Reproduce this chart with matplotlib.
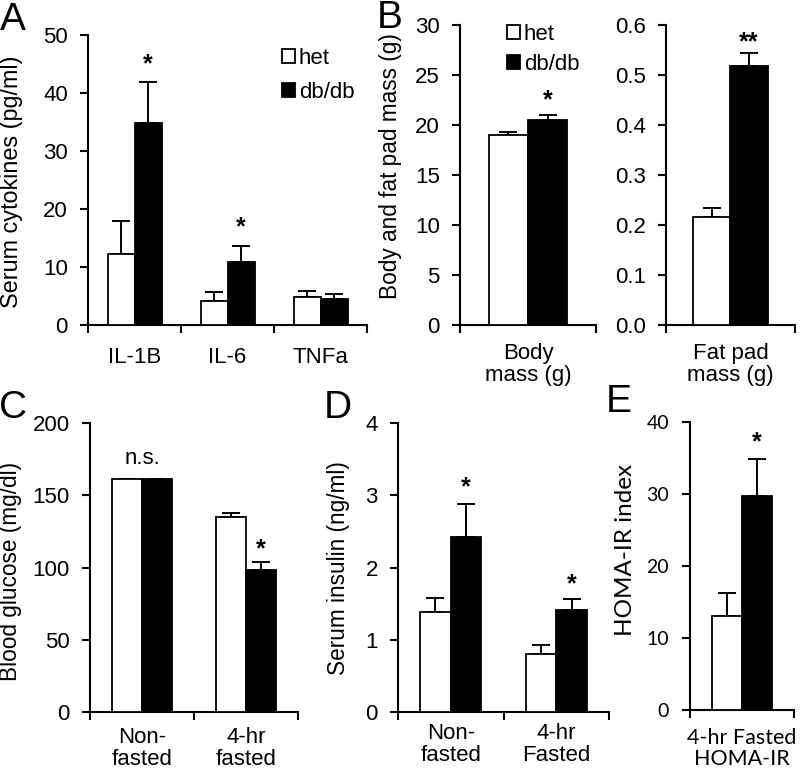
import numpy as np
import matplotlib.pyplot as plt

plt.rcParams['font.family'] = ['Liberation Sans', 'DejaVu Sans']
plt.rcParams['font.size'] = 16

# A - serum cytokines
cyto_labels = ["IL-1B", "IL-6", "TNFa"]
cyto_het = [12.3, 4.2, 4.9]
cyto_het_err = [5.7, 1.5, 0.9]
cyto_db = [34.9, 10.9, 4.5]
cyto_db_err = [7.0, 2.8, 0.9]
cyto_marks = ["*", "*", ""]

# B - body and fat pad mass
body_labels = ["Body\nmass (g)"]
body_het = [19.0]
body_het_err = [0.35]
body_db = [20.5]
body_db_err = [0.5]
body_marks = ["*"]

fat_labels = ["Fat pad\nmass (g)"]
fat_het = [0.217]
fat_het_err = [0.018]
fat_db = [0.518]
fat_db_err = [0.027]
fat_marks = ["**"]

# C - blood glucose
glu_labels = ["Non-\nfasted", "4-hr\nfasted"]
glu_het = [161, 135]
glu_het_err = [0.5, 3]
glu_db = [161, 98]
glu_db_err = [0.5, 6]
glu_marks = ["n.s.", "*"]

# D - serum insulin
ins_labels = ["Non-\nfasted", "4-hr\nFasted"]
ins_het = [1.38, 0.80]
ins_het_err = [0.20, 0.13]
ins_db = [2.42, 1.41]
ins_db_err = [0.46, 0.16]
ins_marks = ["*", "*"]

# E - HOMA-IR
homa_labels = ["4-hr Fasted\nHOMA-IR"]
homa_het = [13.0]
homa_het_err = [3.2]
homa_db = [29.7]
homa_db_err = [5.1]
homa_marks = ["*"]

W = 0.29


def bar_panel(ax, labels, het, het_err, db, db_err, ymax, ystep, pad, fmt="{:g}"):
    x = np.arange(len(labels))
    ax.bar(x - W / 2, het, W, color="white", edgecolor="black", linewidth=1.3, label="het", zorder=3)
    ax.bar(x + W / 2, db, W, color="black", edgecolor="black", linewidth=1.3, label="db/db", zorder=3)
    ax.errorbar(x - W / 2, het, yerr=[np.zeros(len(x)), het_err], fmt="none", ecolor="black",
                elinewidth=1.4, capsize=6.5, capthick=1.4, zorder=2)
    ax.errorbar(x + W / 2, db, yerr=[np.zeros(len(x)), db_err], fmt="none", ecolor="black",
                elinewidth=1.4, capsize=6.5, capthick=1.4, zorder=2)
    ax.spines[["top", "right"]].set_visible(False)
    ax.spines[["left", "bottom"]].set_linewidth(1.5)
    ax.set_xlim(-0.5, len(x) - 0.5)
    ax.set_ylim(0, ymax)
    yt = np.arange(0, ymax + ystep / 2, ystep)
    ax.set_yticks(yt, [fmt.format(v) for v in yt])
    ax.set_xticks(np.arange(len(x) + 1) - 0.5, [""] * (len(x) + 1))
    ax.set_xticks(x, labels, minor=True)
    ax.tick_params(which="major", length=6, width=1.5, direction="out")
    ax.tick_params(axis="y", pad=8.5)
    ax.tick_params(axis="x", which="minor", length=0, pad=pad)
    for lab in ax.get_xticklabels(minor=True):
        lab.set_linespacing(1.05)
    return x


def mark(ax, x, y, s):
    ax.annotate(s, (x, y), xytext=(0, -10.4), textcoords="offset points",
                ha="center", va="baseline", fontsize=18, fontweight="bold")


fig = plt.figure(figsize=(8, 7.69), dpi=100)

# A
axA = fig.add_axes([0.11, 0.5774, 0.349, 0.3771])
x = bar_panel(axA, cyto_labels, cyto_het, cyto_het_err, cyto_db, cyto_db_err, 50, 10, 16)
for xi, s, y in zip(x, cyto_marks, [46.2, 18.1, 0]):
    if s:
        mark(axA, xi + W / 2, y, s)
axA.legend(frameon=False, loc="upper left", bbox_to_anchor=(0.655, 0.995), borderpad=0,
           handlelength=0.6, handleheight=0.6, handletextpad=0.15, labelspacing=0.6)

# B left
axB1 = fig.add_axes([0.575, 0.5774, 0.17, 0.390])
x = bar_panel(axB1, body_labels, body_het, body_het_err, body_db, body_db_err, 30, 5, 13)
mark(axB1, W / 2, 23.2, body_marks[0])
axB1.legend(frameon=False, loc="upper left", bbox_to_anchor=(0.265, 1.04), borderpad=0,
            handlelength=0.6, handleheight=0.6, handletextpad=0.15, labelspacing=0.4)

# B right
axB2 = fig.add_axes([0.8325, 0.5774, 0.161, 0.390])
x = bar_panel(axB2, fat_labels, fat_het, fat_het_err, fat_db, fat_db_err, 0.6, 0.1, 13, fmt="{:.1f}")
mark(axB2, W / 2, 0.58, fat_marks[0])

# C
axC = fig.add_axes([0.1125, 0.0741, 0.26, 0.3758])
x = bar_panel(axC, glu_labels, glu_het, glu_het_err, glu_db, glu_db_err, 200, 50, 11)
axC.annotate(glu_marks[0], (0, 180), xytext=(0, -9), textcoords="offset points",
             ha="center", va="baseline", fontsize=16)
mark(axC, 1 + W / 2, 117.6, glu_marks[1])

# D
axD = fig.add_axes([0.4975, 0.0741, 0.264, 0.3758])
x = bar_panel(axD, ins_labels, ins_het, ins_het_err, ins_db, ins_db_err, 4, 1, 8)
mark(axD, W / 2, 3.21, ins_marks[0])
mark(axD, 1 + W / 2, 1.87, ins_marks[1])

# E
axE = fig.add_axes([0.8625, 0.0767, 0.13, 0.3745])
x = bar_panel(axE, homa_labels, homa_het, homa_het_err, homa_db, homa_db_err, 40, 10, 13)
for lab in axE.get_xticklabels(minor=True) + axE.get_yticklabels():
    lab.set_family("Lato")
for lab in axE.get_xticklabels(minor=True):
    lab.set_fontsize(15.5)
for lab in axE.get_yticklabels():
    lab.set_fontsize(14)
axE.tick_params(axis="y", pad=9)
mark(axE, W / 2, 38.2, homa_marks[0])

# y labels
fig.text(12 / 800, 1 - 182 / 769, "Serum cytokines (pg/ml)", rotation=90, ha="center", va="center",
         fontsize=16.8)
fig.text(391 / 800, 1 - 166 / 769, "Body and fat pad mass (g)", rotation=90, ha="center", va="center",
         fontsize=16.3)
fig.text(11 / 800, 1 - 571 / 769, "Blood glucose (mg/dl)", rotation=90, ha="center", va="center",
         fontsize=16.3)
fig.text(339 / 800, 1 - 568 / 769, "Serum insulin (ng/ml)", rotation=90, ha="center", va="center",
         fontsize=16.3)
fig.text(625 / 800, 1 - 550 / 769, "HOMA-IR index", rotation=90, ha="center", va="center",
         family="Lato", fontsize=17.5)

# panel letters
for s, px, py in [("A", 13, 30), ("B", 390, 28), ("C", 13, 418), ("D", 338, 418), ("E", 619, 412)]:
    fig.text(px / 800, 1 - py / 769, s, ha="center", va="baseline", fontsize=28)

fig.savefig("out.png", dpi=100)
